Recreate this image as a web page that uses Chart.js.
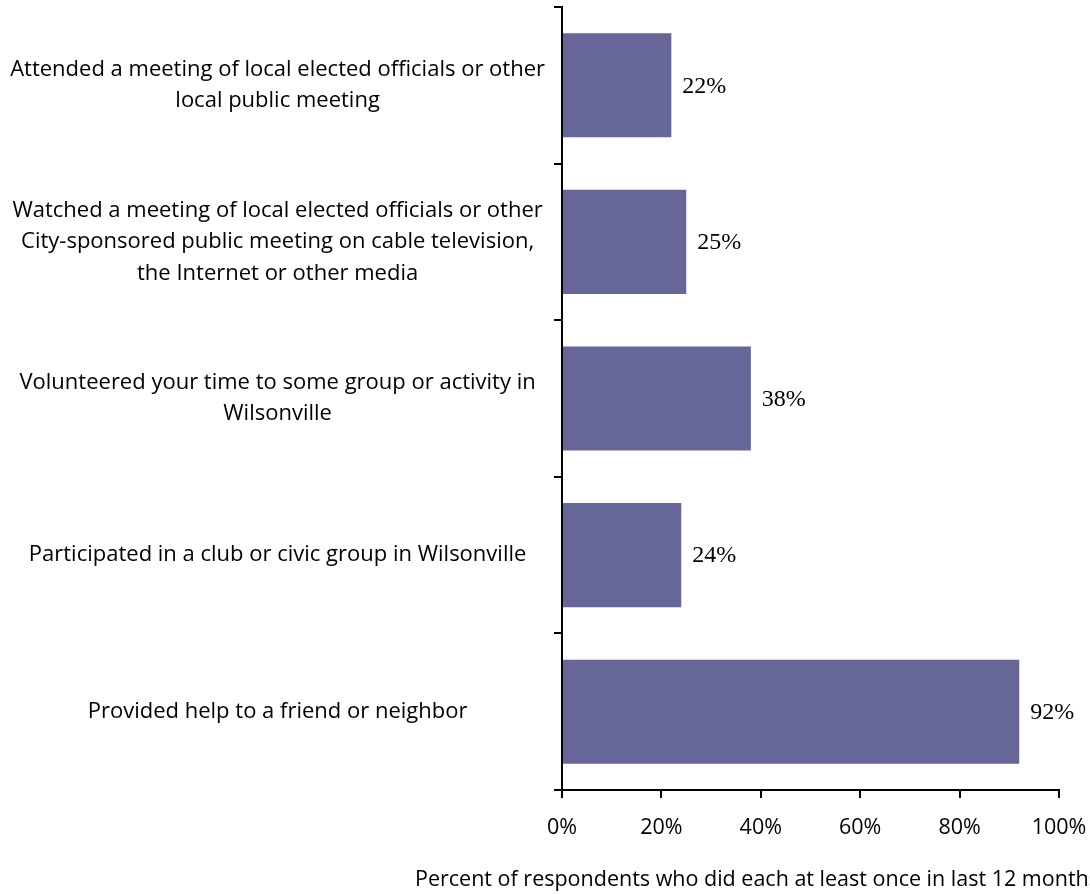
<!DOCTYPE html>
<html lang="en">
<head>
  <meta charset="UTF-8">
  <title>Civic participation</title>
  <script src="https://cdn.jsdelivr.net/npm/chart.js"></script>
  <style>
    body { margin: 0; background: #fff; }
    #wrap { width: 1090px; height: 894px; }
  </style>
</head>
<body>
  <div id="wrap">
    <canvas id="grafico" width="1090" height="894"></canvas>
  </div>

  <script>
    // categories (each one split into its printed lines)
    const categorias = [
      ['Attended a meeting of local elected officials or other', 'local public meeting'],
      ['Watched a meeting of local elected officials or other', 'City-sponsored public meeting on cable television,', 'the Internet or other media'],
      ['Volunteered your time to some group or activity in', 'Wilsonville'],
      ['Participated in a club or civic group in Wilsonville'],
      ['Provided help to a friend or neighbor']
    ];
    const valores = [22, 25, 38, 24, 92];
    const ticksX = [0, 20, 40, 60, 80, 100];
    const tituloX = 'Percent of respondents who did each at least once in last 12 months';

    const fonteTexto = '"Open Sans", Lato, sans-serif';

    // percent labels to the right of each bar
    const rotulos = {
      id: 'rotulos',
      afterDatasetsDraw(chart) {
        const ctx = chart.ctx;
        const meta = chart.getDatasetMeta(0);
        ctx.save();
        ctx.fillStyle = '#000';
        ctx.font = '24px "Liberation Serif", serif';
        ctx.textAlign = 'left';
        ctx.textBaseline = 'middle';
        meta.data.forEach((barra, i) => {
          ctx.fillText(valores[i] + '%', barra.x + 11, barra.y + 1);
        });
        ctx.restore();
      }
    };

    // axis title, placed like the original (not centred on the plot)
    const tituloEixo = {
      id: 'tituloEixo',
      afterDraw(chart) {
        const ctx = chart.ctx;
        ctx.save();
        ctx.fillStyle = '#000';
        ctx.font = '21.5px ' + fonteTexto;
        ctx.textAlign = 'left';
        ctx.textBaseline = 'middle';
        ctx.fillText(tituloX, 415, 880);
        ctx.restore();
      }
    };

    new Chart(document.getElementById('grafico'), {
      type: 'bar',
      data: {
        labels: categorias,
        datasets: [{
          data: valores,
          backgroundColor: '#666699',
          categoryPercentage: 1,
          barPercentage: 0.665
        }]
      },
      options: {
        indexAxis: 'y',
        responsive: false,
        animation: false,
        layout: { padding: { top: 7, right: 31, left: 0, bottom: 0 } },
        plugins: {
          legend: { display: false },
          tooltip: { enabled: false }
        },
        scales: {
          x: {
            min: 0,
            max: 100,
            afterBuildTicks(scale) {
              scale.ticks = ticksX.map(v => ({ value: v }));
            },
            afterFit(scale) {
              scale.height = 104;
              scale.paddingLeft = 0;
              scale.paddingRight = 0;
            },
            border: { display: true, color: '#000', width: 2 },
            grid: { drawOnChartArea: false, drawTicks: true, tickLength: 8, color: '#000', lineWidth: 2 },
            ticks: {
              color: '#000',
              padding: 17,
              font: { family: fonteTexto, size: 21.5 },
              callback: v => v + '%'
            }
          },
          y: {
            afterFit(scale) {
              scale.width = 562;
              scale.paddingTop = 0;
              scale.paddingBottom = 0;
            },
            border: { display: true, color: '#000', width: 2 },
            grid: { offset: true, drawOnChartArea: false, drawTicks: true, tickLength: 8, color: '#000', lineWidth: 2 },
            ticks: {
              color: '#000',
              padding: 9,
              crossAlign: 'center',
              font: { family: fonteTexto, size: 22, lineHeight: 1.43 }
            }
          }
        }
      },
      plugins: [rotulos, tituloEixo]
    });
  </script>
</body>
</html>
